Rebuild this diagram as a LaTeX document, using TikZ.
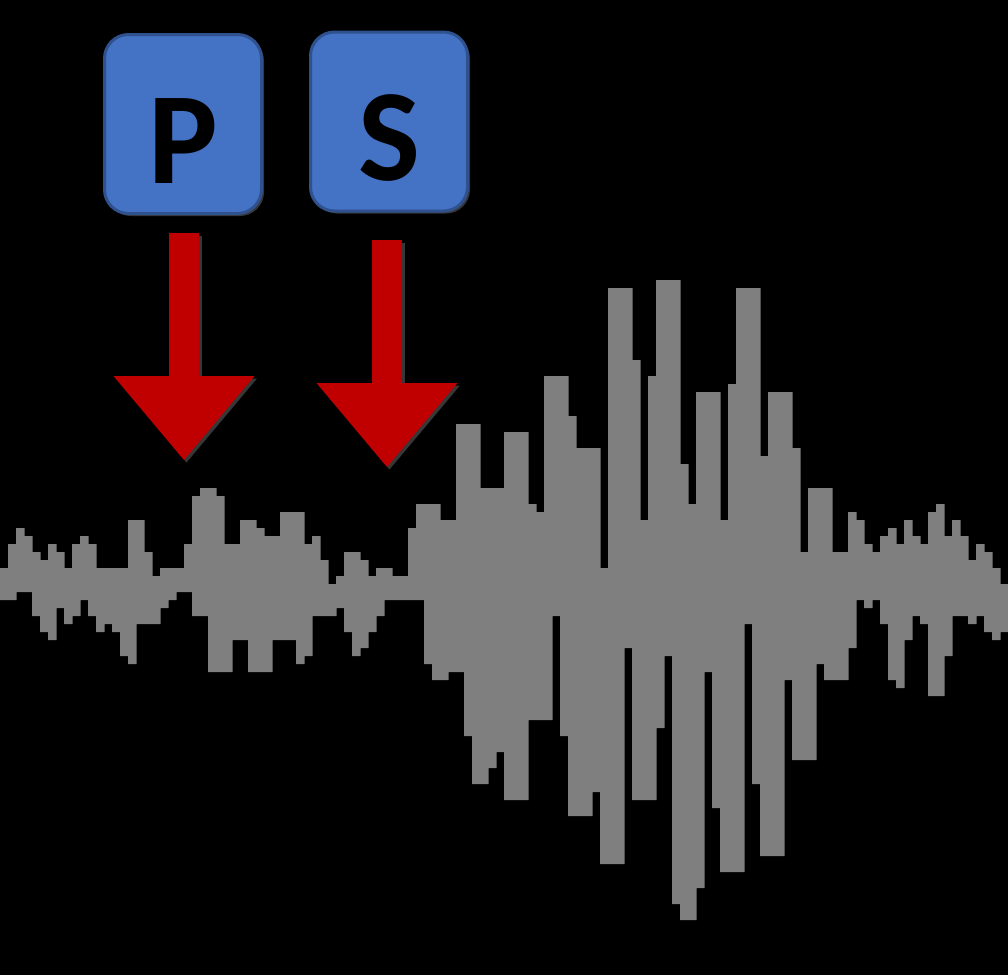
\documentclass[tikz,border=0pt]{standalone}
\usepackage{fontspec}
\setmainfont{Carlito}
\usetikzlibrary{arrows.meta,shadows}
\definecolor{wavegray}{RGB}{127,127,127}
\definecolor{boxblue}{RGB}{68,114,196}
\definecolor{boxedge}{RGB}{47,82,143}
\definecolor{arrowred}{RGB}{192,0,0}
\definecolor{halo}{RGB}{55,55,55}
\begin{document}
\begin{tikzpicture}[x=1pt,y=-1pt,
  letterbox/.style={rectangle, rounded corners=24pt, fill=boxblue, draw=boxedge,
    line width=3pt, minimum width=157pt, minimum height=179pt, inner sep=0pt,
    font=\fontsize{131}{131}\selectfont\bfseries, text height=118pt, text depth=0pt,
    text=black, drop shadow={shadow xshift=2.5pt, shadow yshift=-2.5pt, fill=halo, opacity=1}},
  bigarrow/.style={draw=arrowred, line width=30pt,
    -{Triangle[width=141pt,length=84pt,line width=0pt,fill=arrowred]}},
  arrowshade/.style={draw=halo, line width=30pt,
    -{Triangle[width=141pt,length=84pt,line width=0pt,fill=halo]},
    transform canvas={shift={(2.5pt,-2.5pt)}}},
]
\useasboundingbox (0,0) rectangle (1008,975);
\fill[black] (0,0) rectangle (1008,975);

% waveform columns (top/bottom in pixels), 8 px wide each
\fill[wavegray] \foreach \t/\b [count=\i from 0] in {
568/600,544/600,528/592,536/592,552/616,560/632,544/640,552/608,568/624,544/616,
536/600,544/616,568/632,568/624,568/632,568/656,520/664,520/624,552/624,576/624,
568/608,568/600,568/592,544/592,496/616,488/616,488/672,496/672,544/672,544/640,
520/640,520/672,528/672,536/672,536/640,512/640,512/640,512/664,544/656,536/616,
560/616,584/616,576/608,552/632,552/656,560/648,576/632,568/616,568/600,576/600,
576/600,528/600,504/600,504/664,504/680,520/680,520/672,424/672,424/736,424/784,
488/784,488/768,488/752,432/800,432/800,432/800,504/720,512/720,376/720,376/616,
376/736,416/816,448/816,448/816,448/792,568/864,288/864,288/864,288/648,360/800,
520/800,376/800,280/728,280/656,280/904,464/920,504/920,392/888,392/672,392/808,
520/872,384/872,288/872,288/624,288/784,456/856,392/856,392/856,392/680,448/760,
552/760,488/760,488/664,488/680,552/680,552/680,512/648,520/600,544/608,552/600,
536/624,528/680,544/688,520/640,536/616,544/624,512/696,504/696,536/656,520/616,
536/616,560/624,544/616,552/632,568/640,584/632}
{ (8*\i,\t) rectangle (8*\i+8.6,\b) };

% boxes
\node[letterbox] (P) at (183,124) {P};
\node[letterbox] (S) at (389,121.5) {S};

% arrows
\coordinate (Ptip) at (184,460);
\coordinate (Stip) at (387,467);
\path (P.south -| Ptip) ++(0,18) coordinate (Pstart);
\path (S.south -| Stip) ++(0,27.5) coordinate (Sstart);
\draw[arrowshade] (Pstart) -- (Ptip);
\draw[arrowshade] (Sstart) -- (Stip);
\draw[bigarrow] (Pstart) -- (Ptip);
\draw[bigarrow] (Sstart) -- (Stip);
\end{tikzpicture}
\end{document}
